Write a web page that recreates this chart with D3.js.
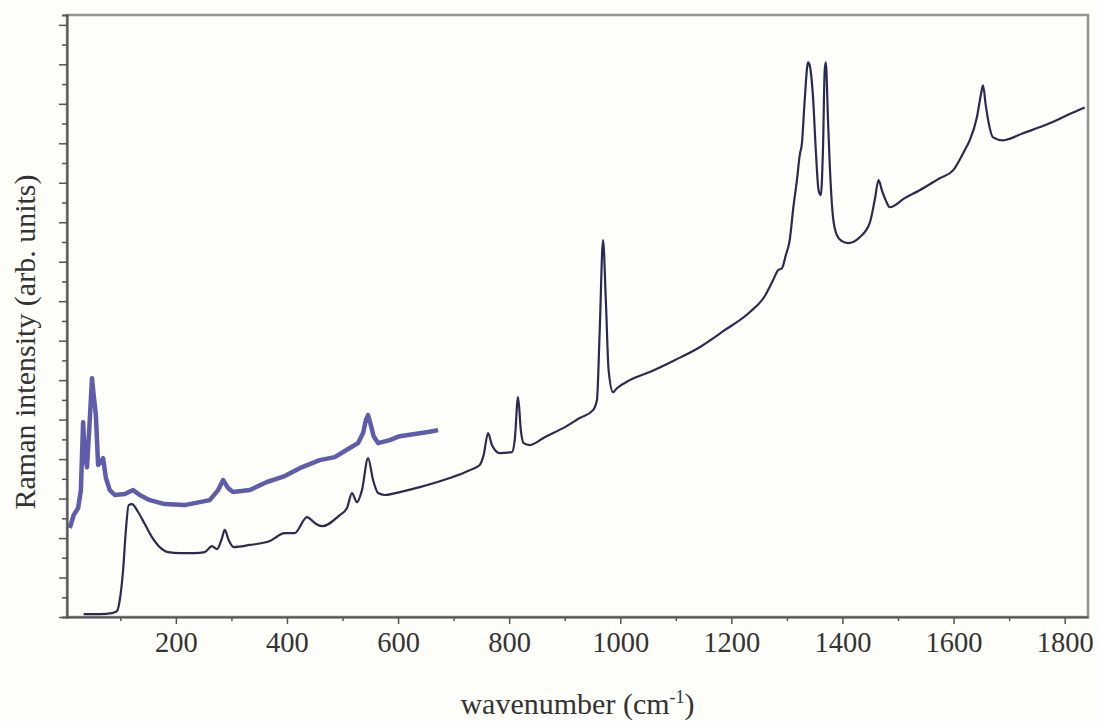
<!DOCTYPE html>
<html>
<head>
<meta charset="utf-8">
<script src="https://cdn.jsdelivr.net/npm/d3@7"></script>
<style>
    body { margin: 0; background: #fefefa; }
    svg { display: block; }
</style>
</head>
<body>
<div id="raman-chart"></div>
<script>
// spectra (wavenumber in cm-1, intensity in arbitrary units)
var lowerWavenumber = [34, 63, 85, 94, 99, 105, 110, 115, 121, 132, 144, 157, 171, 186, 207, 234, 252, 265, 274, 283, 288, 295, 304, 333, 369, 396, 414, 436, 450, 463, 495, 508, 517, 526, 535, 546, 555, 564, 576, 603, 639, 693, 729, 747, 754, 762, 769, 783, 805, 810, 816, 821, 826, 837, 864, 897, 927, 951, 958, 963, 969, 974, 979, 987, 994, 1017, 1053, 1098, 1143, 1188, 1233, 1260, 1275, 1284, 1291, 1298, 1305, 1312, 1318, 1323, 1327, 1332, 1338, 1341, 1347, 1352, 1357, 1361, 1365, 1368, 1370, 1374, 1377, 1383, 1390, 1399, 1410, 1431, 1449, 1458, 1465, 1471, 1478, 1485, 1512, 1539, 1575, 1599, 1620, 1629, 1642, 1649, 1653, 1658, 1663, 1671, 1689, 1725, 1773, 1804, 1836];
var lowerIntensity = [0.15, 0.15, 0.2, 0.3, 0.86, 2.38, 4.4, 5.67, 5.72, 5.32, 4.71, 4.05, 3.54, 3.29, 3.24, 3.24, 3.29, 3.59, 3.44, 4.0, 4.41, 3.9, 3.54, 3.65, 3.85, 4.25, 4.25, 5.06, 4.76, 4.6, 5.16, 5.52, 6.28, 5.82, 6.43, 8.05, 6.94, 6.28, 6.18, 6.33, 6.58, 7.04, 7.44, 7.7, 8.2, 9.32, 8.71, 8.3, 8.35, 8.96, 11.14, 9.47, 8.81, 8.71, 9.11, 9.57, 10.08, 10.48, 10.99, 14.53, 19.09, 16.05, 12.51, 11.39, 11.59, 12.0, 12.41, 13.01, 13.67, 14.53, 15.44, 16.25, 17.06, 17.57, 17.67, 18.33, 19.09, 20.86, 22.13, 23.39, 24.0, 26.18, 28.1, 27.95, 26.33, 23.65, 21.62, 21.37, 23.8, 27.7, 28.1, 25.16, 22.99, 20.25, 19.34, 19.04, 18.94, 19.24, 19.95, 21.11, 22.13, 21.62, 21.11, 20.76, 21.22, 21.62, 22.23, 22.63, 23.65, 24.15, 25.32, 26.43, 26.94, 25.92, 25.06, 24.3, 24.15, 24.51, 25.01, 25.42, 25.82];

var upperWavenumber = [9, 16, 24, 29, 33, 36, 40, 45, 49, 52, 56, 60, 65, 69, 74, 81, 90, 108, 123, 135, 153, 180, 216, 243, 261, 276, 285, 294, 303, 333, 364, 396, 423, 459, 486, 513, 528, 537, 542, 546, 551, 556, 564, 585, 603, 630, 654, 672];
var upperIntensity = [4.51, 5.16, 5.52, 6.43, 9.87, 8.2, 7.59, 9.97, 12.1, 11.24, 10.23, 7.7, 7.85, 8.05, 7.04, 6.43, 6.18, 6.23, 6.43, 6.18, 5.92, 5.72, 5.67, 5.82, 5.92, 6.43, 6.94, 6.53, 6.33, 6.43, 6.84, 7.14, 7.54, 7.95, 8.1, 8.56, 8.81, 9.32, 9.97, 10.23, 9.72, 9.16, 8.81, 8.96, 9.16, 9.27, 9.37, 9.47];

var xDomain = [4, 1842];
var yDomain = [0, 30.5];
var xMajorTicks = [200, 400, 600, 800, 1000, 1200, 1400, 1600, 1800];
var xMinorTicks = [100, 300, 500, 700, 900, 1100, 1300, 1500, 1700];
var yTicks = d3.range(0, 31);

var xTitle = "wavenumber (cm";
var xTitleSup = "-1";
var yTitle = "Raman intensity (arb. units)";

var FONT = "'Liberation Serif', 'DejaVu Serif', serif";

var WIDTH = 1099,
    HEIGHT = 722,
    margin = {top: 15, right: 11, bottom: 105, left: 67},
    plotW = WIDTH - margin.left - margin.right,
    plotH = HEIGHT - margin.top - margin.bottom;

var svg = d3.select("#raman-chart")
    .append("svg")
    .attr("width", WIDTH)
    .attr("height", HEIGHT);

var g = svg.append("g")
    .attr("transform", "translate(" + margin.left + "," + margin.top + ")");

var x = d3.scaleLinear().domain(xDomain).range([0, plotW]);
var y = d3.scaleLinear().domain(yDomain).range([plotH, 0]);

// frame (top + right are lighter)
g.append("rect")
    .attr("x", 0)
    .attr("y", 0)
    .attr("width", plotW)
    .attr("height", plotH)
    .style("fill", "none")
    .style("stroke", "#939393")
    .style("stroke-width", 2.5);

function toPoints(xs, ys) {
    return xs.map(function(d, i) { return [d, ys[i]]; });
}

function lineWith(curve) {
    return d3.line()
        .x(function(d) { return x(d[0]); })
        .y(function(d) { return y(d[1]); })
        .curve(curve);
}

// upper (noisy) spectrum, drawn as a thick band
g.append("path")
    .datum(toPoints(upperWavenumber, upperIntensity))
    .attr("d", lineWith(d3.curveLinear))
    .style("fill", "none")
    .style("stroke", "#433f9c")
    .style("stroke-width", 4.5)
    .style("stroke-opacity", 0.85)
    .style("stroke-linejoin", "round");

g.append("path")
    .datum(toPoints(lowerWavenumber, lowerIntensity))
    .attr("d", lineWith(d3.curveMonotoneX))
    .style("fill", "none")
    .style("stroke", "#2b2a52")
    .style("stroke-width", 2.2)
    .style("stroke-linejoin", "round");

// x axis: labelled ticks every 200, short ones in between
var xAxis = g.append("g")
    .attr("transform", "translate(0," + plotH + ")")
    .call(d3.axisBottom(x).tickValues(xMajorTicks).tickFormat(d3.format("d"))
        .tickSize(7).tickPadding(8).tickSizeOuter(0));
g.append("g")
    .attr("transform", "translate(0," + plotH + ")")
    .call(d3.axisBottom(x).tickValues(xMinorTicks).tickSize(4).tickFormat("").tickSizeOuter(0))
    .call(function(a) {
        a.select(".domain").remove();
        a.selectAll(".tick line").style("stroke", "#555").style("stroke-width", 1.5);
    });

xAxis.select(".domain").style("stroke", "#555").style("stroke-width", 2);
xAxis.selectAll(".tick line").style("stroke", "#555").style("stroke-width", 1.5);
xAxis.selectAll(".tick text")
    .attr("dy", "0.71em")
    .style("font-family", FONT)
    .style("font-size", "28.5px")
    .style("fill", "#333");

// y axis: no labels, alternating tick length
var yAxis = g.append("g")
    .call(d3.axisLeft(y).tickValues(yTicks).tickFormat("").tickSizeOuter(0).tickSize(5));
yAxis.selectAll(".tick line")
    .attr("x2", function(d) { return d % 2 === 0 ? -8 : -5; })
    .style("stroke", "#555")
    .style("stroke-width", 1.5);
yAxis.select(".domain").style("stroke", "#555").style("stroke-width", 2);

// titles
var xt = svg.append("text")
    .attr("x", margin.left + plotW / 2)
    .attr("y", 714)
    .attr("text-anchor", "middle")
    .style("font-family", FONT)
    .style("font-size", "30px")
    .style("fill", "#333")
    .text(xTitle);
xt.append("tspan")
    .attr("dy", -11)
    .style("font-size", "18px")
    .text(xTitleSup);
xt.append("tspan")
    .attr("dy", 11)
    .text(")");

svg.append("text")
    .attr("transform", "translate(35," + 342 + ") rotate(-90)")
    .attr("text-anchor", "middle")
    .style("font-family", FONT)
    .style("font-size", "30px")
    .style("fill", "#333")
    .text(yTitle);
</script>
</body>
</html>
